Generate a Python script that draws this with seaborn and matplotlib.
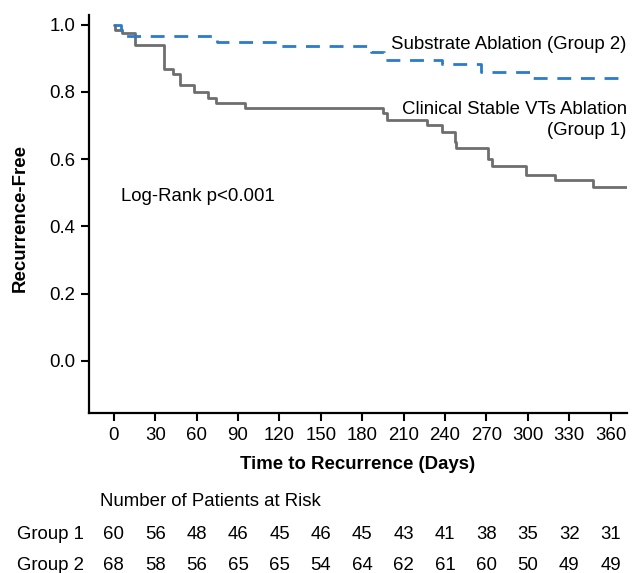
import matplotlib
matplotlib.use("Agg")
import matplotlib.pyplot as plt
import seaborn as sns
import pandas as pd

# Kaplan-Meier steps (days, recurrence-free fraction)
group2_days = [0, 5, 9, 75, 121, 186, 196, 238, 266, 304, 372]
group2_surv = [1.0, 0.985, 0.967, 0.948, 0.937, 0.92, 0.895, 0.882, 0.86, 0.842, 0.842]

group1_days = [0, 1, 6, 15, 36, 43, 48, 58, 68, 74, 95, 195, 198, 227, 238,
               247, 248, 271, 274, 299, 320, 347, 372]
group1_surv = [1.0, 0.985, 0.975, 0.94, 0.867, 0.855, 0.82, 0.80, 0.781, 0.766,
               0.751, 0.737, 0.716, 0.702, 0.682, 0.652, 0.632, 0.60, 0.58,
               0.553, 0.538, 0.518, 0.518]

# Number at risk table
risk_days = [0, 30, 60, 90, 120, 150, 180, 210, 240, 270, 300, 330, 360]
risk_group1 = [60, 56, 48, 46, 45, 46, 45, 43, 41, 38, 35, 32, 31]
risk_group2 = [68, 58, 56, 65, 65, 54, 64, 62, 61, 60, 50, 49, 49]

y_ticks = [0.0, 0.2, 0.4, 0.6, 0.8, 1.0]

BLUE = "#2b7bca"
GRAY = "#6e6e6e"
FS = 13.4

sns.set_style("ticks")
plt.rcParams["font.family"] = ["Liberation Sans", "DejaVu Sans"]
plt.rcParams["font.size"] = FS
plt.rcParams["text.color"] = "black"
plt.rcParams["axes.labelcolor"] = "black"
plt.rcParams["xtick.color"] = "black"
plt.rcParams["ytick.color"] = "black"

fig = plt.figure(figsize=(6.37, 5.73), dpi=100)
ax = fig.add_axes([0.1397, 0.2792, 0.8443, 0.6946])

df1 = pd.DataFrame({"day": group1_days, "surv": group1_surv})
df2 = pd.DataFrame({"day": group2_days, "surv": group2_surv})

sns.lineplot(data=df1, x="day", y="surv", ax=ax, color=GRAY, linewidth=2.0,
             drawstyle="steps-post", estimator=None)
sns.lineplot(data=df2, x="day", y="surv", ax=ax, color=BLUE, linewidth=2.0,
             drawstyle="steps-post", estimator=None, linestyle=(0, (5, 3.5)))

ax.set_xlim(-18, 371.7)
ax.set_ylim(-0.155, 1.029)
ax.set_xticks(risk_days)
ax.set_yticks(y_ticks)
ax.set_yticklabels([f"{v:.1f}" for v in y_ticks])

for side in ["top", "right"]:
    ax.spines[side].set_visible(False)
for side in ["left", "bottom"]:
    ax.spines[side].set_linewidth(1.6)
    ax.spines[side].set_color("black")
ax.tick_params(axis="both", direction="out", length=5.5, width=1.5,
               color="black", labelcolor="black", labelsize=FS, pad=4.5)

ax.set_xlabel("Time to Recurrence (Days)", fontsize=FS, fontweight="bold")
ax.set_ylabel("Recurrence-Free", fontsize=FS, fontweight="bold")
ax.xaxis.set_label_coords(0.5, -0.108)
ax.yaxis.set_label_coords(-0.1115, 0.49)

# curve annotations
ax.text(1.0, 0.942, "Substrate Ablation (Group 2)", transform=ax.get_yaxis_transform(),
        ha="right", va="center", fontsize=FS)
ax.text(1.0, 0.7165, "Clinical Stable VTs Ablation\n(Group 1)",
        transform=ax.get_yaxis_transform(), ha="right", va="center",
        multialignment="right", fontsize=FS, linespacing=1.25)
ax.text(5, 0.489, "Log-Rank p<0.001", ha="left", va="center", fontsize=FS)

# number at risk table
xt = ax.get_xaxis_transform()
ax.text(-10, -0.223, "Number of Patients at Risk", transform=xt,
        ha="left", va="center", fontsize=FS)
ax.text(-70, -0.306, "Group 1", transform=xt, ha="left", va="center", fontsize=FS)
ax.text(-70, -0.382, "Group 2", transform=xt, ha="left", va="center", fontsize=FS)
for d, n1, n2 in zip(risk_days, risk_group1, risk_group2):
    ax.text(d, -0.306, str(n1), transform=xt, ha="center", va="center", fontsize=FS)
    ax.text(d, -0.382, str(n2), transform=xt, ha="center", va="center", fontsize=FS)

fig.savefig("out.png", dpi=100)
